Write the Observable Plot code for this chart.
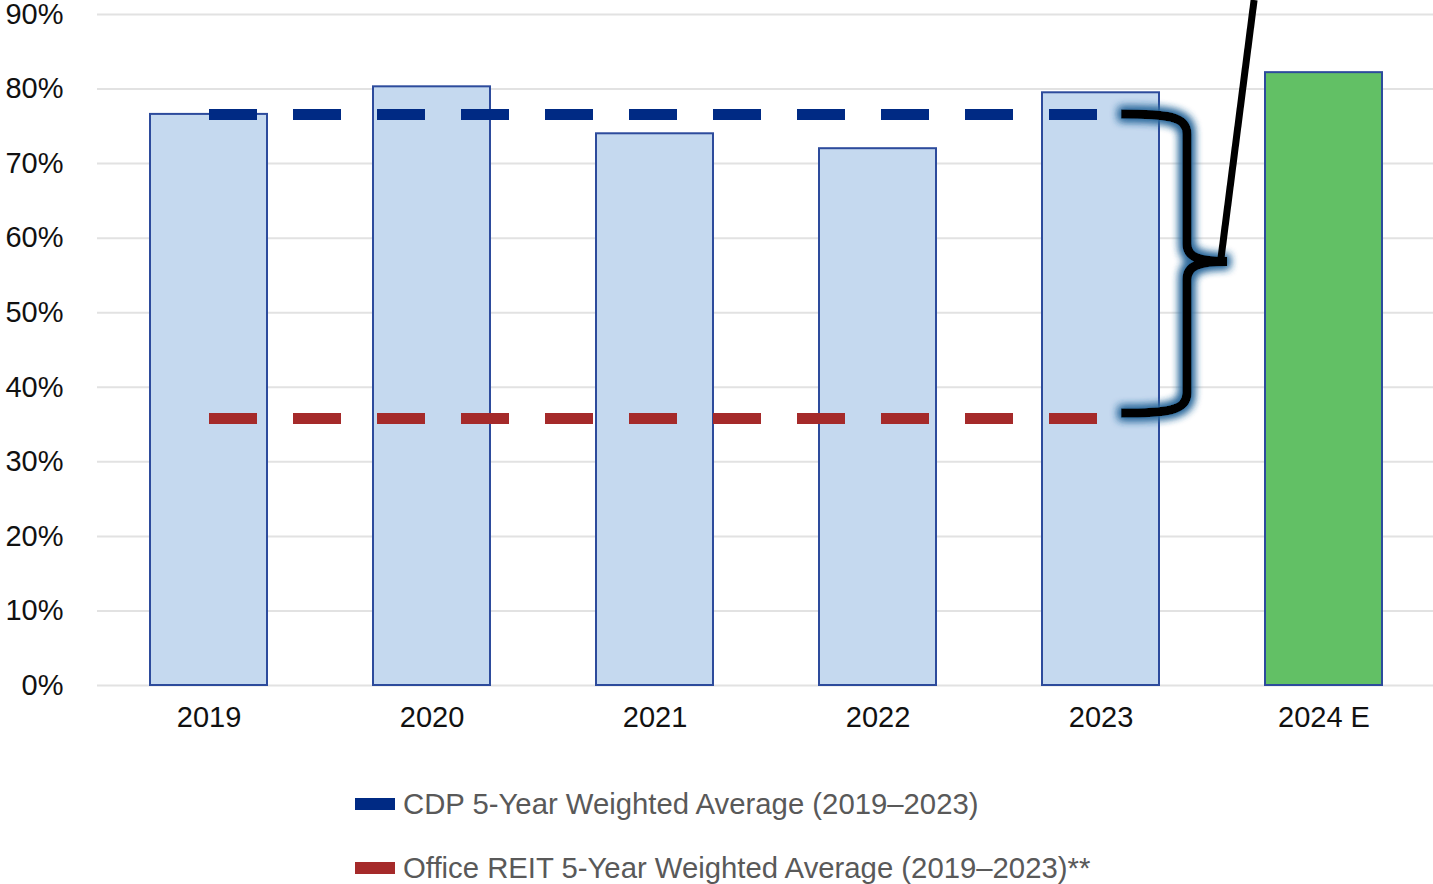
<!DOCTYPE html>
<html>
<head>
<meta charset="utf-8">
<script src="https://cdn.jsdelivr.net/npm/d3@7"></script>
<script src="https://cdn.jsdelivr.net/npm/@observablehq/plot@0.6"></script>
<style>
  html, body { margin: 0; padding: 0; background: #fff; }
  #chart { position: relative; width: 1433px; height: 884px; overflow: hidden; font-family: "Liberation Sans", Arial, sans-serif; }
  .legend { position: absolute; left: 355px; display: flex; align-items: center; font-size: 29.3px; color: #595959; white-space: nowrap; }
  .legend .sw { width: 40px; height: 12px; margin-right: 8px; }
</style>
</head>
<body>
<div id="chart"></div>
<script>
// ---- data ----
const years = ["2019", "2020", "2021", "2022", "2023", "2024 E"];
const occupancy = [76.6, 80.3, 74.0, 72.0, 79.5, 82.2];
const barFills = ["#c5d9ef", "#c5d9ef", "#c5d9ef", "#c5d9ef", "#c5d9ef", "#62c065"];
const yTicks = [0, 10, 20, 30, 40, 50, 60, 70, 80, 90];
const averageSeries = ["CDP 5-Year Weighted Average (2019–2023)", "Office REIT 5-Year Weighted Average (2019–2023)**"];
const averageValues = [76.6, 35.8];
const averageColors = ["#002a84", "#a52a2a"];
const averageSpan = ["2019", "2023"];

const bars = years.map((y, i) => ({year: y, value: occupancy[i], fill: barFills[i]}));
const avgLines = averageSeries.flatMap((s, i) => averageSpan.map(y => ({series: s, year: y, value: averageValues[i], color: averageColors[i]})));

// brace drawn from the scales (between the two averages, right of 2023)
function brace(index, scales, values, dimensions) {
  const x = scales.x, y = scales.y;
  const step = x("2024 E") - x("2023");
  const base = x("2023");
  const x0 = base + step * 0.355;   // brace ends
  const x1 = base + step * 0.65;    // vertical spine
  const x2 = base + step * 0.83;    // tip
  const T = y(averageValues[0]), B = y(averageValues[1]) - 5, M = (T + B) / 2 - 2;
  const ns = "http://www.w3.org/2000/svg";
  const g = document.createElementNS(ns, "g");
  const defs = document.createElementNS(ns, "defs");
  defs.innerHTML = `<filter id="glow" x="-50%" y="-20%" width="200%" height="140%">
      <feMorphology in="SourceAlpha" operator="dilate" radius="2" result="d"/>
      <feGaussianBlur in="d" stdDeviation="4.5" result="b"/>
      <feFlood flood-color="#2f6a9c" flood-opacity="1"/>
      <feComposite in2="b" operator="in" result="s"/>
      <feMerge><feMergeNode in="s"/><feMergeNode in="s"/><feMergeNode in="SourceGraphic"/></feMerge>
    </filter>`;
  g.appendChild(defs);
  const d = `M${x0},${T} C${x0 + 45},${T} ${x1},${T + 2} ${x1},${T + 20}
    L${x1},${M - 18} C${x1},${M - 4} ${x1 + 12},${M} ${x2},${M}
    M${x2},${M} C${x1 + 12},${M} ${x1},${M + 4} ${x1},${M + 18}
    L${x1},${B - 20} C${x1},${B - 2} ${x0 + 45},${B} ${x0},${B}`;
  const p = document.createElementNS(ns, "path");
  p.setAttribute("d", d);
  p.setAttribute("fill", "none");
  p.setAttribute("stroke", "#000");
  p.setAttribute("stroke-width", "9");
  p.setAttribute("stroke-linejoin", "round");
  p.setAttribute("filter", "url(#glow)");
  g.appendChild(p);
  const l = document.createElementNS(ns, "line");
  l.setAttribute("x1", x2 - 6); l.setAttribute("y1", M - 4);
  l.setAttribute("x2", x2 + 27); l.setAttribute("y2", 0);
  l.setAttribute("stroke", "#000");
  l.setAttribute("stroke-width", "7");
  g.appendChild(l);
  return g;
}

const plot = Plot.plot({
  width: 1433,
  height: 745,
  marginTop: 14,
  marginBottom: 60,
  marginLeft: 97,
  marginRight: 0,
  style: {fontSize: "29px", fontFamily: "'Liberation Sans', Arial, sans-serif", color: "#111", background: "transparent", overflow: "visible"},
  x: {domain: years, range: [95, 1437], paddingInner: 0.476, paddingOuter: 0.238, tickSize: 0, tickPadding: 21, label: null},
  y: {domain: [0, 90], ticks: yTicks, tickFormat: d => d + "%", tickSize: 0, tickPadding: 34, label: null},
  marks: [
    Plot.ruleY(yTicks, {stroke: "#e2e2e2", strokeWidth: 2}),
    Plot.barY(bars, {x: "year", y: "value", fill: "fill", stroke: "#2d4b9c", strokeWidth: 2}),
    Plot.lineY(avgLines, {x: "year", y: "value", z: "series", stroke: "color", strokeWidth: 11, strokeDasharray: "48,36", strokeLinecap: "butt"}),
    brace
  ]
});
const chart = document.getElementById("chart");
chart.appendChild(plot);

const tops = [804, 868];
averageSeries.forEach((s, i) => {
  const row = document.createElement("div");
  row.className = "legend";
  row.style.top = (tops[i] - 17) + "px";
  row.innerHTML = `<div class="sw" style="background:${averageColors[i]}"></div><span>${s}</span>`;
  chart.appendChild(row);
});
</script>
</body>
</html>
